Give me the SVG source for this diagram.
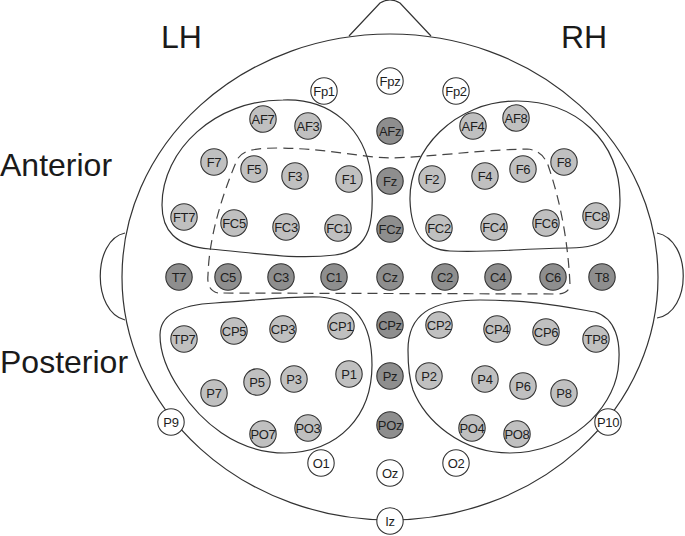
<svg xmlns="http://www.w3.org/2000/svg" width="685" height="536" viewBox="0 0 685 536">
<style>
.o{fill:none;stroke:#333;stroke-width:1.2}
.dash{fill:none;stroke:#444;stroke-width:1.2;stroke-dasharray:10 6}
circle{stroke:#333;stroke-width:1.1}
.w circle{fill:#fff}
.l circle{fill:#c0c0c0}
.d circle{fill:#8e8e8e}
.n text{font-family:"Liberation Sans",Arial,sans-serif;font-size:13px;letter-spacing:-0.3px;fill:#1e1e1e;text-anchor:middle}
.big{font-family:"Liberation Sans",Arial,sans-serif;font-size:32px;fill:#1a1a1a}
</style>
<rect width="685" height="536" fill="#fff"/>
<g id="head">
<path class="o" d="M349,36 L380,3 Q390,-3 400,3 L431,36"/>
<path class="o" d="M125,233 C92,240 92,312 125,320"/>
<path class="o" d="M657,233 C692,240 692,312 657,318"/>
<ellipse class="o" cx="390" cy="277" rx="268" ry="243" fill="#fff"/>
</g>
<g id="labels">
<text class="big" x="161" y="48">LH</text>
<text class="big" x="561" y="48">RH</text>
<text class="big" x="0" y="176">Anterior</text>
<text class="big" x="0" y="373">Posterior</text>
</g>
<g id="regions">
<path class="o" d="M162,205 C162,150 215,100 283,100 C330,98 365,128 371,175 C375,220 372,250 335,255 C295,260 255,253 210,249 C175,246 162,230 162,205 Z"/>
<path class="o" d="M410,200 C409,150 455,101 517,101 C575,101 620,140 620,200 C620,235 605,248 570,248 C530,248 490,253 450,251 C425,250 411,235 410,200 Z"/>
<path class="o" d="M160,335 C160,318 175,305 215,303 C260,300 290,296 320,297 C360,300 372,330 372,365 C372,415 340,452 285,453 C235,453 200,420 180,390 C165,368 160,350 160,335 Z"/>
<path class="o" d="M408,350 C408,315 430,300 480,300 C530,300 560,306 595,312 C615,318 622,340 618,370 C612,410 570,452 510,453 C460,453 425,420 413,390 C409,378 408,362 408,350 Z"/>
<path class="dash" d="M218,293 C210,291 207,285 208,275 C209,240 220,200 237,160 C242,150 255,148 280,148 C330,149 360,157 390,158 C430,157 480,150 527,149 C540,150 545,158 548,165 C560,200 568,240 570,285 C570,290 565,294 558,294 L218,293"/>
</g>
<g id="electrodes">
<g id="Fpz" class="n w"><circle cx="390" cy="81" r="13.2"/><text x="390" y="85.6">Fpz</text></g>
<g id="Fp1" class="n w"><circle cx="324" cy="91" r="13.2"/><text x="324" y="95.6">Fp1</text></g>
<g id="Fp2" class="n w"><circle cx="456" cy="91" r="13.2"/><text x="456" y="95.6">Fp2</text></g>
<g id="AF7" class="n l"><circle cx="263" cy="119" r="13.2"/><text x="263" y="123.6">AF7</text></g>
<g id="AF3" class="n l"><circle cx="308" cy="126" r="13.2"/><text x="308" y="130.6">AF3</text></g>
<g id="AFz" class="n d"><circle cx="390" cy="131" r="13.2"/><text x="390" y="135.6">AFz</text></g>
<g id="AF4" class="n l"><circle cx="473" cy="126" r="13.2"/><text x="473" y="130.6">AF4</text></g>
<g id="AF8" class="n l"><circle cx="516" cy="118" r="13.2"/><text x="516" y="122.6">AF8</text></g>
<g id="F7" class="n l"><circle cx="214" cy="162" r="13.2"/><text x="214" y="166.6">F7</text></g>
<g id="F5" class="n l"><circle cx="254" cy="169" r="13.2"/><text x="254" y="173.6">F5</text></g>
<g id="F3" class="n l"><circle cx="295" cy="176" r="13.2"/><text x="295" y="180.6">F3</text></g>
<g id="F1" class="n l"><circle cx="349" cy="179" r="13.2"/><text x="349" y="183.6">F1</text></g>
<g id="Fz" class="n d"><circle cx="390" cy="181" r="13.2"/><text x="390" y="185.6">Fz</text></g>
<g id="F2" class="n l"><circle cx="432" cy="179" r="13.2"/><text x="432" y="183.6">F2</text></g>
<g id="F4" class="n l"><circle cx="485" cy="176" r="13.2"/><text x="485" y="180.6">F4</text></g>
<g id="F6" class="n l"><circle cx="523" cy="169" r="13.2"/><text x="523" y="173.6">F6</text></g>
<g id="F8" class="n l"><circle cx="564" cy="162" r="13.2"/><text x="564" y="166.6">F8</text></g>
<g id="FT7" class="n l"><circle cx="184" cy="217" r="13.2"/><text x="184" y="221.6">FT7</text></g>
<g id="FC5" class="n l"><circle cx="234" cy="223" r="13.2"/><text x="234" y="227.6">FC5</text></g>
<g id="FC3" class="n l"><circle cx="286" cy="227" r="13.2"/><text x="286" y="231.6">FC3</text></g>
<g id="FC1" class="n l"><circle cx="338" cy="228" r="13.2"/><text x="338" y="232.6">FC1</text></g>
<g id="FCz" class="n d"><circle cx="390" cy="229" r="13.2"/><text x="390" y="233.6">FCz</text></g>
<g id="FC2" class="n l"><circle cx="439" cy="228" r="13.2"/><text x="439" y="232.6">FC2</text></g>
<g id="FC4" class="n l"><circle cx="494" cy="227" r="13.2"/><text x="494" y="231.6">FC4</text></g>
<g id="FC6" class="n l"><circle cx="546" cy="223" r="13.2"/><text x="546" y="227.6">FC6</text></g>
<g id="FC8" class="n l"><circle cx="596" cy="216" r="13.2"/><text x="596" y="220.6">FC8</text></g>
<g id="T7" class="n d"><circle cx="179" cy="277" r="13.2"/><text x="179" y="281.6">T7</text></g>
<g id="C5" class="n d"><circle cx="228" cy="277" r="13.2"/><text x="228" y="281.6">C5</text></g>
<g id="C3" class="n d"><circle cx="281" cy="277" r="13.2"/><text x="281" y="281.6">C3</text></g>
<g id="C1" class="n d"><circle cx="334" cy="277" r="13.2"/><text x="334" y="281.6">C1</text></g>
<g id="Cz" class="n d"><circle cx="390" cy="277" r="13.2"/><text x="390" y="281.6">Cz</text></g>
<g id="C2" class="n d"><circle cx="445" cy="277" r="13.2"/><text x="445" y="281.6">C2</text></g>
<g id="C4" class="n d"><circle cx="498" cy="277" r="13.2"/><text x="498" y="281.6">C4</text></g>
<g id="C6" class="n d"><circle cx="553" cy="277" r="13.2"/><text x="553" y="281.6">C6</text></g>
<g id="T8" class="n d"><circle cx="602" cy="277" r="13.2"/><text x="602" y="281.6">T8</text></g>
<g id="TP7" class="n l"><circle cx="184" cy="339" r="13.2"/><text x="184" y="343.6">TP7</text></g>
<g id="CP5" class="n l"><circle cx="234" cy="331" r="13.2"/><text x="234" y="335.6">CP5</text></g>
<g id="CP3" class="n l"><circle cx="283" cy="329" r="13.2"/><text x="283" y="333.6">CP3</text></g>
<g id="CP1" class="n l"><circle cx="341" cy="326" r="13.2"/><text x="341" y="330.6">CP1</text></g>
<g id="CPz" class="n d"><circle cx="390" cy="325" r="13.2"/><text x="390" y="329.6">CPz</text></g>
<g id="CP2" class="n l"><circle cx="439" cy="325" r="13.2"/><text x="439" y="329.6">CP2</text></g>
<g id="CP4" class="n l"><circle cx="497" cy="329" r="13.2"/><text x="497" y="333.6">CP4</text></g>
<g id="CP6" class="n l"><circle cx="546" cy="332" r="13.2"/><text x="546" y="336.6">CP6</text></g>
<g id="TP8" class="n l"><circle cx="596" cy="339" r="13.2"/><text x="596" y="343.6">TP8</text></g>
<g id="P7" class="n l"><circle cx="214" cy="393" r="13.2"/><text x="214" y="397.6">P7</text></g>
<g id="P5" class="n l"><circle cx="257" cy="382" r="13.2"/><text x="257" y="386.6">P5</text></g>
<g id="P3" class="n l"><circle cx="294" cy="379" r="13.2"/><text x="294" y="383.6">P3</text></g>
<g id="P1" class="n l"><circle cx="349" cy="374" r="13.2"/><text x="349" y="378.6">P1</text></g>
<g id="Pz" class="n d"><circle cx="390" cy="376" r="13.2"/><text x="390" y="380.6">Pz</text></g>
<g id="P2" class="n l"><circle cx="429" cy="376" r="13.2"/><text x="429" y="380.6">P2</text></g>
<g id="P4" class="n l"><circle cx="485" cy="379" r="13.2"/><text x="485" y="383.6">P4</text></g>
<g id="P6" class="n l"><circle cx="523" cy="386" r="13.2"/><text x="523" y="390.6">P6</text></g>
<g id="P8" class="n l"><circle cx="564" cy="393" r="13.2"/><text x="564" y="397.6">P8</text></g>
<g id="P9" class="n w"><circle cx="171" cy="422" r="13.2"/><text x="171" y="426.6">P9</text></g>
<g id="P10" class="n w"><circle cx="608" cy="422" r="13.2"/><text x="608" y="426.6">P10</text></g>
<g id="PO7" class="n l"><circle cx="263" cy="434" r="13.2"/><text x="263" y="438.6">PO7</text></g>
<g id="PO3" class="n l"><circle cx="308" cy="428" r="13.2"/><text x="308" y="432.6">PO3</text></g>
<g id="POz" class="n d"><circle cx="390" cy="425" r="13.2"/><text x="390" y="429.6">POz</text></g>
<g id="PO4" class="n l"><circle cx="472" cy="428" r="13.2"/><text x="472" y="432.6">PO4</text></g>
<g id="PO8" class="n l"><circle cx="517" cy="434" r="13.2"/><text x="517" y="438.6">PO8</text></g>
<g id="O1" class="n w"><circle cx="321" cy="463" r="13.2"/><text x="321" y="467.6">O1</text></g>
<g id="Oz" class="n w"><circle cx="390" cy="473" r="13.2"/><text x="390" y="477.6">Oz</text></g>
<g id="O2" class="n w"><circle cx="456" cy="463" r="13.2"/><text x="456" y="467.6">O2</text></g>
<g id="Iz" class="n w"><circle cx="390" cy="521" r="13.2"/><text x="390" y="525.6">Iz</text></g>
</g>
</svg>
